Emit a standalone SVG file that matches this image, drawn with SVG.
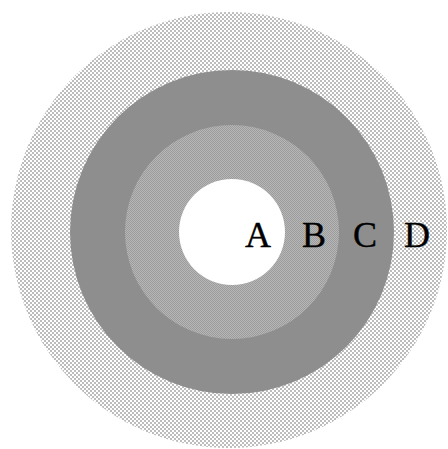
<svg xmlns="http://www.w3.org/2000/svg" width="448" height="449" viewBox="0 0 448 449">
<defs>
<pattern id="dots" width="4" height="4" patternUnits="userSpaceOnUse">
<rect width="4" height="4" fill="#ffffff"/>
<circle cx="1" cy="1" r="0.95" fill="#a0a0a0"/>
<circle cx="3" cy="3" r="0.95" fill="#a0a0a0"/>
</pattern>
<pattern id="fine" width="2" height="2" patternUnits="userSpaceOnUse">
<rect width="2" height="2" fill="#b6b6b6"/>
<rect width="1" height="1" fill="#9c9c9c"/>
<rect x="1" y="1" width="1" height="1" fill="#9c9c9c"/>
</pattern>
<style>
.lbl{font-family:"Liberation Serif","Times New Roman",serif;font-size:36px;fill:#000;stroke:#000;stroke-width:0.4;}
</style>
</defs>
<rect width="448" height="449" fill="#ffffff"/>
<g id="D"><circle cx="229" cy="230" r="218" fill="url(#dots)"/></g>
<g id="C"><circle cx="232" cy="232" r="162" fill="#8e8e8e"/></g>
<g id="B"><circle cx="232" cy="232" r="107" fill="url(#fine)"/></g>
<g id="A"><circle cx="232" cy="232" r="53" fill="#ffffff"/></g>
<g id="labels">
<text class="lbl" x="245" y="247">A</text>
<text class="lbl" x="302" y="247">B</text>
<text class="lbl" x="353" y="247">C</text>
<text class="lbl" x="404" y="247">D</text>
</g>
</svg>
